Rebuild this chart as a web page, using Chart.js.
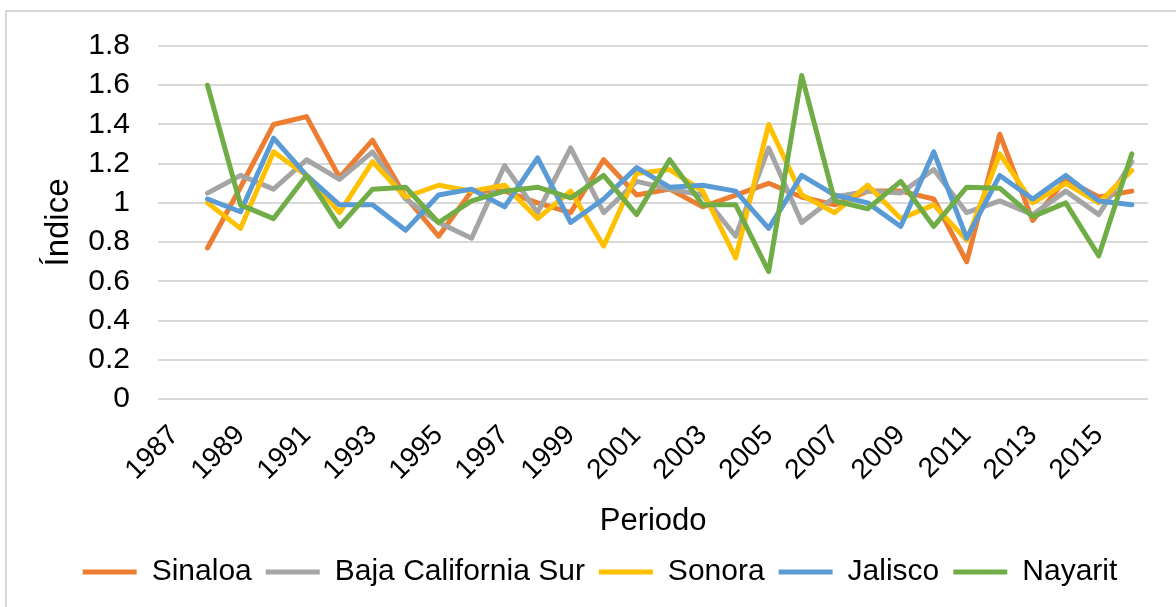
<!DOCTYPE html>
<html>
<head>
<meta charset="utf-8">
<script src="https://cdn.jsdelivr.net/npm/chart.js@4"></script>
<style>
  body { margin: 0; background: #fff; }
  #wrap { position: relative; width: 1176px; height: 607px; }
  #frame { position: absolute; left: 5px; top: 10px; width: 1200px; height: 700px;
           border: 2px solid #d9d9d9; pointer-events: none; }
</style>
</head>
<body>
<div id="wrap">
  <canvas id="myChart" width="1176" height="607"></canvas>
  <div id="frame"></div>
</div>
<script>
  const years = [];
  for (let y = 1987; y <= 2016; y++) years.push(String(y));

  // 1987 has no value in the source chart
  const sinaloa = [null, 0.77, 1.08, 1.40, 1.44, 1.13, 1.32, 1.03, 0.83, 1.06, 1.06,
    1.00, 0.95, 1.22, 1.04, 1.07, 0.98, 1.04, 1.10, 1.03, 0.99,
    1.06, 1.06, 1.02, 0.70, 1.35, 0.91, 1.12, 1.03, 1.06];
  const bajaCalSur = [null, 1.05, 1.14, 1.07, 1.22, 1.12, 1.26, 1.02, 0.90, 0.82, 1.19,
    0.95, 1.28, 0.95, 1.11, 1.07, 1.04, 0.83, 1.28, 0.90, 1.03,
    1.06, 1.05, 1.17, 0.95, 1.01, 0.94, 1.06, 0.94, 1.21];
  const sonora = [null, 1.00, 0.87, 1.26, 1.14, 0.95, 1.21, 1.03, 1.09, 1.06, 1.09,
    0.92, 1.06, 0.78, 1.15, 1.17, 1.06, 0.72, 1.40, 1.04, 0.95,
    1.09, 0.92, 0.99, 0.81, 1.25, 1.00, 1.10, 1.00, 1.165];
  const jalisco = [null, 1.02, 0.955, 1.33, 1.14, 0.99, 0.99, 0.86, 1.04, 1.07, 0.98,
    1.23, 0.90, 1.02, 1.18, 1.08, 1.09, 1.06, 0.87, 1.14, 1.04,
    1.00, 0.88, 1.26, 0.82, 1.14, 1.02, 1.14, 1.01, 0.99];
  const nayarit = [null, 1.60, 0.99, 0.92, 1.14, 0.88, 1.07, 1.08, 0.90, 1.01, 1.06,
    1.08, 1.025, 1.14, 0.94, 1.22, 0.99, 0.99, 0.65, 1.65, 1.01,
    0.97, 1.11, 0.88, 1.08, 1.075, 0.93, 1.00, 0.73, 1.25];

  const font = 'Liberation Sans, Arial, sans-serif';

  function series(label, values, color, order) {
    return {
      label: label,
      data: values,
      borderColor: color,
      backgroundColor: color,
      borderWidth: 5,
      borderCapStyle: 'round',
      borderJoinStyle: 'round',
      pointRadius: 0,
      tension: 0,
      order: order
    };
  }

  const data = {
    labels: years,
    datasets: [
      series('Sinaloa', sinaloa, '#ED7D31', 5),
      series('Baja California Sur', bajaCalSur, '#A5A5A5', 4),
      series('Sonora', sonora, '#FFC000', 3),
      series('Jalisco', jalisco, '#5B9BD5', 2),
      series('Nayarit', nayarit, '#70AD47', 1)
    ]
  };

  // legend sits a little right of centre in the original
  const legendShift = {
    id: 'legendShift',
    afterLayout(chart) {
      chart.legend.left += 23;
      chart.legend.right += 23;
    }
  };

  const config = {
    type: 'line',
    data: data,
    plugins: [legendShift],
    options: {
      responsive: false,
      animation: false,
      layout: {
        padding: { top: 42, left: 5, right: 27, bottom: 10 }
      },
      plugins: {
        tooltip: { enabled: false },
        legend: {
          position: 'bottom',
          labels: {
            usePointStyle: true,
            pointStyle: 'line',
            pointStyleWidth: 54,
            color: '#000',
            padding: 14,
            font: { family: font, size: 30 },
            sort: (a, b) => a.datasetIndex - b.datasetIndex
          }
        }
      },
      scales: {
        x: {
          offset: true,
          grid: { display: false, drawTicks: false },
          border: { display: false },
          ticks: {
            color: '#000',
            font: { family: font, size: 28 },
            autoSkip: false,
            minRotation: 45,
            maxRotation: 45,
            padding: 20,
            callback: function (v, i) { return i % 2 === 0 ? this.getLabelForValue(v) : ''; }
          },
          title: {
            display: true,
            text: 'Periodo',
            color: '#000',
            font: { family: font, size: 31 },
            padding: { top: 0, bottom: 3 }
          },
          afterFit: (scale) => { scale.height = 144; }
        },
        y: {
          min: 0,
          max: 1.8,
          grid: { color: '#d9d9d9', lineWidth: 2, drawTicks: false },
          border: { display: false },
          ticks: {
            stepSize: 0.2,
            color: '#000',
            font: { family: font, size: 30 },
            padding: 28,
            callback: (v) => String(+v.toFixed(1))
          },
          title: {
            display: true,
            text: 'Índice',
            color: '#000',
            font: { family: font, size: 33 },
            padding: { top: 34, bottom: 0 }
          },
          afterFit: (scale) => { scale.width = 153; }
        }
      }
    }
  };

  const myChart = new Chart(
    document.getElementById('myChart'),
    config
  );
</script>
</body>
</html>
